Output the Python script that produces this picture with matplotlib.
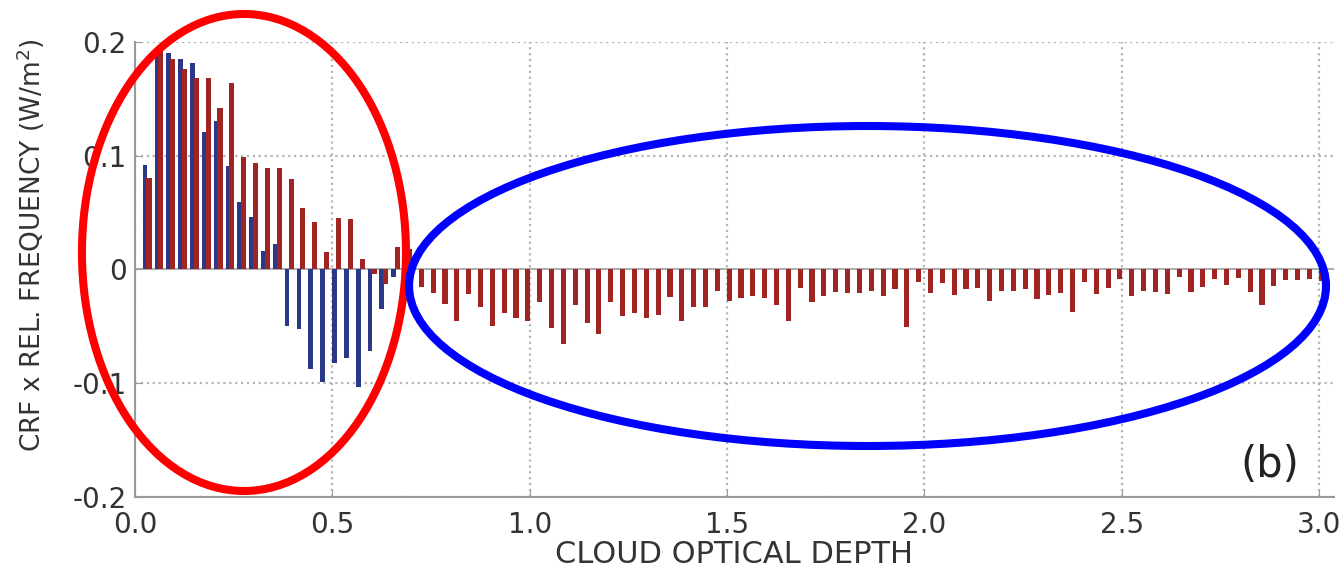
import numpy as np
import matplotlib
matplotlib.use("Agg")
import matplotlib.pyplot as plt
from matplotlib.patches import Ellipse

# bins of cloud optical depth (0.03 wide)
depth = np.round(np.arange(1, 101) * 0.03, 2)

# blue series, only the first 23 bins
blue_vals = [0.092, 0.191, 0.190, 0.185, 0.181, 0.121, 0.130, 0.091, 0.059, 0.046,
             0.016, 0.022, -0.050, -0.0525, -0.088, -0.099, -0.0826, -0.078, -0.103,
             -0.072, -0.035, -0.007, 0.004]

# red series, all bins
red_vals = [0.080, 0.192, 0.185, 0.176, 0.168, 0.168, 0.142, 0.164, 0.099, 0.093,
            0.089, 0.089, 0.079, 0.054, 0.042, 0.015, 0.045, 0.044, 0.009, -0.004,
            -0.013, 0.020, 0.018,
            -0.0155, -0.0205, -0.0305, -0.0455, -0.0215, -0.033, -0.0495, -0.0385, -0.043, -0.045,
            -0.029, -0.0515, -0.066, -0.031, -0.047, -0.0566, -0.029, -0.0407, -0.0385, -0.043,
            -0.0405, -0.024, -0.045, -0.033, -0.033, -0.019, -0.0275, -0.0254, -0.0236, -0.0254,
            -0.031, -0.0458, -0.0166, -0.0283, -0.023, -0.0195, -0.0207, -0.0207, -0.019, -0.0236,
            -0.0177, -0.051, -0.011, -0.0207, -0.0118, -0.0227, -0.0177, -0.0163, -0.0275, -0.0186,
            -0.0186, -0.0177, -0.0257, -0.0227, -0.0207, -0.0375, -0.011, -0.0221, -0.0166, -0.0083,
            -0.0236, -0.0186, -0.0195, -0.0216, -0.0068, -0.0195, -0.0157, -0.0089, -0.0136, -0.0077,
            -0.0195, -0.0313, -0.0148, -0.0097, -0.0097, -0.0083, -0.0106]

xticks = [0.0, 0.5, 1.0, 1.5, 2.0, 2.5, 3.0]
xtick_labels = ["0.0", "0.5", "1.0", "1.5", "2.0", "2.5", "3.0"]
yticks = [-0.2, -0.1, 0.0, 0.1, 0.2]
ytick_labels = ["-0.2", "-0.1", "0", "0.1", "0.2"]

fig = plt.figure(figsize=(13.39, 5.75), dpi=100)
ax = fig.add_axes([0.1008, 0.1357, 0.8952, 0.7918])

nb = len(blue_vals)
ax.bar(depth[:nb] - 0.0045, blue_vals, width=0.012, color="#2b3888", zorder=2)
ax.bar(depth + 0.0055, red_vals, width=0.013, color="#a02522", zorder=3)
ax.axhline(0, color="#999999", lw=1.2, zorder=1)

ax.set_xlim(0, 3.037)
ax.set_ylim(-0.2, 0.2)
ax.set_xticks(xticks)
ax.set_xticklabels(xtick_labels)
ax.set_yticks(yticks)
ax.set_yticklabels(ytick_labels)
ax.grid(True, linestyle=":", color="#b5b5b5", lw=1.6, zorder=0)

for s in ["top", "right"]:
    ax.spines[s].set_visible(False)
for s in ["left", "bottom"]:
    ax.spines[s].set_color("#999999")
    ax.spines[s].set_linewidth(1.5)
ax.tick_params(direction="in", length=5, color="#999999", labelsize=20, labelcolor="#333333")
ax.tick_params(axis="x", pad=10)
ax.tick_params(axis="y", pad=6)

ax.set_xlabel("CLOUD OPTICAL DEPTH", fontsize=22, color="#333333", labelpad=1)
ax.set_ylabel("CRF x REL. FREQUENCY (W/m$^2$)", fontsize=19, color="#333333")
ax.yaxis.set_label_coords(-0.073, 0.553)

ax.text(0.947, 0.07, "(b)", transform=ax.transAxes, fontsize=30, color="#222222",
        ha="center", va="center")

# highlight ellipses
fig.add_artist(Ellipse((0.1822, 0.5609), 0.2420, 0.8296, transform=fig.transFigure,
                       fill=False, edgecolor="#ff0000", lw=5.8))
fig.add_artist(Ellipse((0.6479, 0.5026), 0.6848, 0.5565, transform=fig.transFigure,
                       fill=False, edgecolor="#0000ff", lw=5.8))

fig.savefig("out.png", dpi=100)
